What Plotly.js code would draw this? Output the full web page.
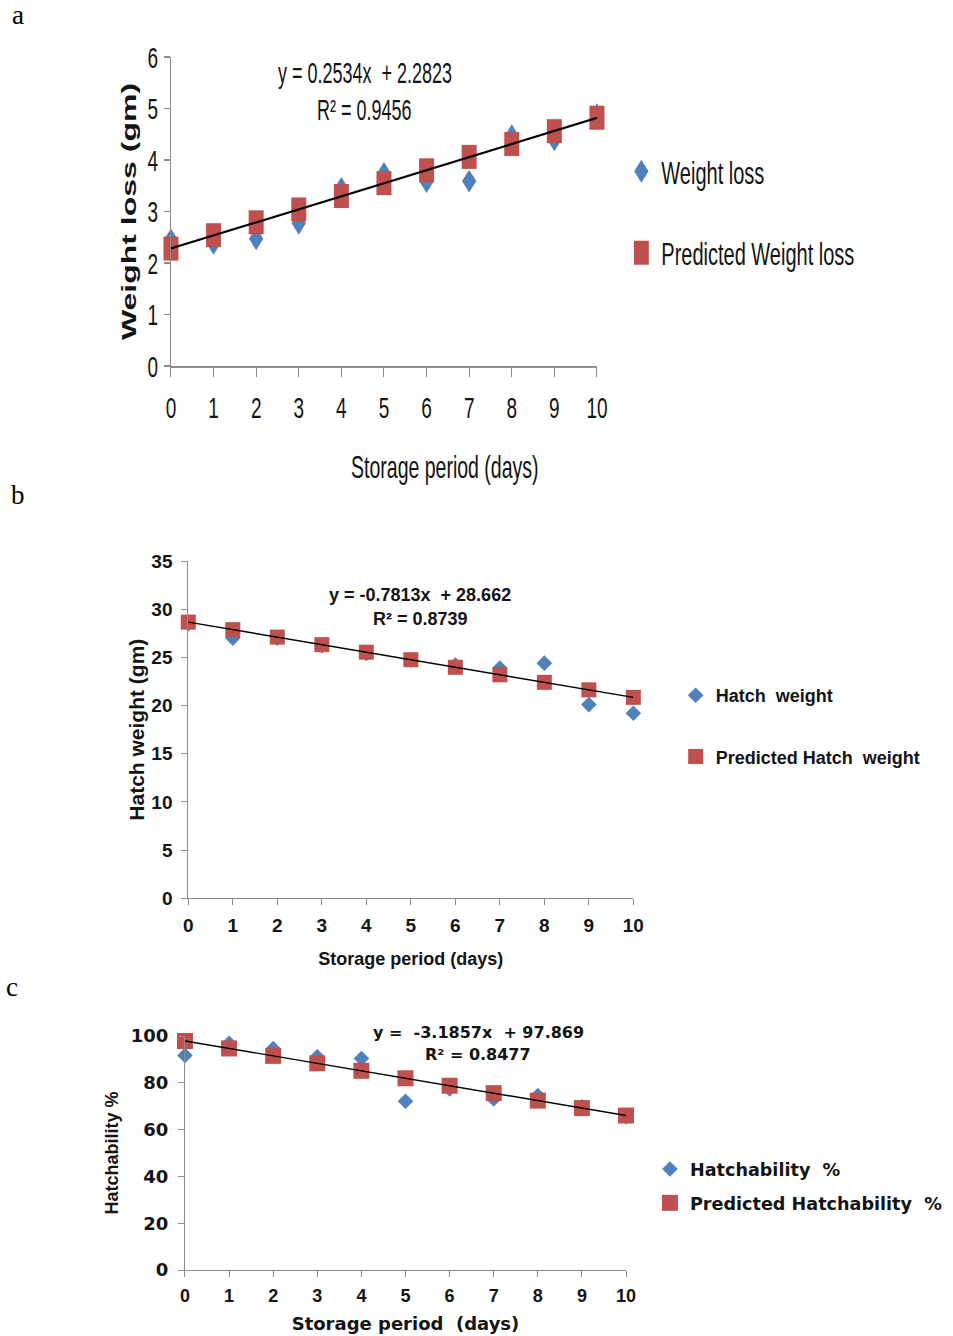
<!DOCTYPE html>
<html><head><meta charset="utf-8">
<script src="https://cdn.plot.ly/plotly-3.0.1.min.js"></script>
<style>
html,body{margin:0;padding:0;background:#fff;}
#main{position:absolute;left:0;top:0;width:953px;height:1336px;}
#pa{position:absolute;left:0;top:0;width:953px;height:306px;transform:scaleY(1.6);transform-origin:0 0;}
</style></head><body>
<div id="main"></div><div id="pa"></div>
<script>
// ---- data ----
const days = [0,1,2,3,4,5,6,7,8,9,10];
const weightLoss       = [2.45,2.38,2.47,2.77,3.45,3.74,3.58,3.59,4.47,4.39,4.88];
const predWeightLoss   = [2.28,2.54,2.79,3.04,3.30,3.55,3.80,4.06,4.31,4.56,4.82];
const hatchWeight      = [28.5,27.0,27.0,26.2,25.4,24.7,24.2,23.9,24.4,20.1,19.2];
const predHatchWeight  = [28.66,27.88,27.10,26.32,25.54,24.76,23.97,23.19,22.41,21.63,20.85];
const hatchability     = [91.7,96.9,94.6,91.1,90.4,72.1,77.4,73.1,74.6,69.7,65.5];
const predHatchability = [97.87,94.68,91.50,88.31,85.13,81.94,78.75,75.57,72.38,69.20,66.01];
const fitWeightLoss    = [0.2534, 2.2823];   // slope, intercept
const fitHatchWeight   = [-0.7813, 28.662];
const fitHatchability  = [-3.1857, 97.869];
const ticksA = [0,1,2,3,4,5,6];
const ticksB = [0,5,10,15,20,25,30,35];
const ticksC = [0,20,40,60,80,100];
const eqA = ['y = 0.2534x\u00A0 + 2.2823', 'R\u00B2 = 0.9456'];
const eqB = ['y = -0.7813x\u00A0 + 28.662', 'R\u00B2 = 0.8739'];
const eqC = ['y =\u00A0 -3.1857x\u00A0 + 97.869', 'R\u00B2 = 0.8477'];

const BLUE = '#4F81BD', RED = '#C0504D', AX = '#8c8c8c', TXT = '#141414';
const ARIAL = '"Liberation Sans", Arial, sans-serif';
const VERD = '"DejaVu Sans", Verdana, sans-serif';

function endX(){ return [days[0], days[days.length-1]]; }
function fitY(f){ return endX().map(x => f[0]*x + f[1]); }

function traces(xa, ya, obs, pred, fit, names, lg, dsize, ssize){
  return [
    {x: days, y: obs, type:'scatter', mode:'markers', name: names[0], xaxis: xa, yaxis: ya,
     legend: lg, legendgroup: lg+'1', cliponaxis:false,
     marker:{symbol:'diamond', size:dsize, color:BLUE, line:{width:0}}},
    {x: days, y: pred, type:'scatter', mode:'markers', name: names[1], xaxis: xa, yaxis: ya,
     legend: lg, legendgroup: lg+'2', cliponaxis:false,
     marker:{symbol:'square', size:ssize, color:RED, line:{width:0}}},
    {x: endX(), y: fitY(fit), type:'scatter', mode:'lines', showlegend:false, xaxis: xa, yaxis: ya,
     cliponaxis:false, line:{color:'#000', width:1.4}, hoverinfo:'skip'}
  ];
}

function axis(dom, rng, tv, font, extra){
  return Object.assign({domain: dom, range: rng, tickvals: tv, ticktext: tv.map(String),
    ticks:'outside', ticklen:6, tickwidth:1, tickcolor:AX, showline:true, linecolor:AX, linewidth:1,
    showgrid:false, zeroline:false, fixedrange:true, automargin:false, tickfont: font}, extra||{});
}

// ---- panel a (own div, stretched vertically like the reference) ----
const H_A = 306, SA = 1.6;
const pa = p => (H_A - p / SA) / H_A;
const fontA = {family: ARIAL, size: 19, color: TXT};
const layoutA = {
  width: 953, height: H_A, margin:{l:0,r:0,t:0,b:0},
  paper_bgcolor:'rgba(0,0,0,0)', plot_bgcolor:'rgba(0,0,0,0)',
  xaxis: axis([0.1794,0.6264],[0,10],days,fontA,{ticklabelstandoff:3}),
  yaxis: axis([pa(366),pa(57)],[0,6],ticksA,fontA,{ticklabelstandoff:2,
    title:{text:'Weight loss (gm)', font:{family:ARIAL, size:20, weight:'bold', color:TXT}, standoff:5}}),
  showlegend:true,
  legend:{x:0.652, xanchor:'left', y:pa(140), yanchor:'top', bgcolor:'rgba(0,0,0,0)',
    font:{family:ARIAL, size:20, color:TXT}, tracegroupgap:22, itemclick:false, itemdoubleclick:false},
  annotations:[
    {xref:'paper', yref:'paper', x:365/953, y:pa(73), text:eqA[0], showarrow:false,
     font:{family:ARIAL, size:18, color:TXT}, xanchor:'center', yanchor:'middle'},
    {xref:'paper', yref:'paper', x:364/953, y:pa(110), text:eqA[1], showarrow:false,
     font:{family:ARIAL, size:18, color:TXT}, xanchor:'center', yanchor:'middle'},
    {xref:'paper', yref:'paper', x:445/953, y:pa(467), text:'Storage period (days)', showarrow:false,
     font:{family:ARIAL, size:19.5, color:TXT}, xanchor:'center', yanchor:'middle'}
  ]
};
Plotly.newPlot('pa', traces('x','y',weightLoss,predWeightLoss,fitWeightLoss,
  ['Weight loss','Predicted Weight loss'],'legend',11,15), layoutA, {displayModeBar:false, staticPlot:true});

// ---- panels b and c ----
const H = 1336;
const py = p => (H - p) / H;
const fontB = {family: ARIAL, size: 19, weight:'bold', color: TXT};
const fontCy = {family: VERD, size: 18, weight:'bold', color: TXT};
const fontCx = {family: ARIAL, size: 18, weight:'bold', color: TXT};
const layoutM = {
  width: 953, height: H, margin:{l:0,r:0,t:0,b:0},
  paper_bgcolor:'#fff', plot_bgcolor:'rgba(0,0,0,0)',
  xaxis: axis([0.1976,0.6646],[0,10],days,fontB,{anchor:'y', ticklabelstandoff:4,
    title:{text:'Storage period (days)', font:{family:ARIAL, size:18, weight:'bold', color:TXT}, standoff:17}}),
  yaxis: axis([py(898.3),py(561)],[0,35],ticksB,fontB,{anchor:'x', ticklabelstandoff:5,
    title:{text:'Hatch weight (gm)', font:{family:ARIAL, size:21, weight:'bold', color:TXT}, standoff:1}}),
  xaxis2: axis([0.1941,0.6569],[0,10],days,fontCx,{anchor:'y2', ticklabelstandoff:3,
    title:{text:'Storage period\u00A0 (days)', font:{family:VERD, size:18, weight:'bold', color:TXT}, standoff:12}}),
  yaxis2: axis([py(1270),py(1036)],[0,100],ticksC,fontCy,{anchor:'x2', ticklabelstandoff:6,
    title:{text:'Hatchability %', font:{family:ARIAL, size:18, weight:'bold', color:TXT}, standoff:7}}),
  showlegend:true,
  legend:{x:0.709, xanchor:'left', y:py(677), yanchor:'top', bgcolor:'rgba(0,0,0,0)',
    font:{family:ARIAL, size:18, weight:'bold', color:TXT}, tracegroupgap:35, itemclick:false, itemdoubleclick:false},
  legend2:{x:0.682, xanchor:'left', y:py(1151), yanchor:'top', bgcolor:'rgba(0,0,0,0)',
    font:{family:VERD, size:17.6, weight:'bold', color:TXT}, tracegroupgap:8, itemclick:false, itemdoubleclick:false},
  annotations:[
    {xref:'paper', yref:'paper', x:18/953, y:py(15), text:'a', showarrow:false,
     font:{family:'"Liberation Serif", serif', size:27, color:'#000'}, xanchor:'center', yanchor:'middle'},
    {xref:'paper', yref:'paper', x:18/953, y:py(495), text:'b', showarrow:false,
     font:{family:'"Liberation Serif", serif', size:27, color:'#000'}, xanchor:'center', yanchor:'middle'},
    {xref:'paper', yref:'paper', x:12/953, y:py(987), text:'c', showarrow:false,
     font:{family:'"Liberation Serif", serif', size:27, color:'#000'}, xanchor:'center', yanchor:'middle'},
    {xref:'paper', yref:'paper', x:420/953, y:py(595), text:eqB[0], showarrow:false,
     font:{family:ARIAL, size:18, weight:'bold', color:TXT}, xanchor:'center', yanchor:'middle'},
    {xref:'paper', yref:'paper', x:420/953, y:py(619), text:eqB[1], showarrow:false,
     font:{family:ARIAL, size:18, weight:'bold', color:TXT}, xanchor:'center', yanchor:'middle'},
    {xref:'paper', yref:'paper', x:478/953, y:py(1032), text:eqC[0], showarrow:false,
     font:{family:VERD, size:16, weight:'bold', color:TXT}, xanchor:'center', yanchor:'middle'},
    {xref:'paper', yref:'paper', x:478/953, y:py(1054), text:eqC[1], showarrow:false,
     font:{family:VERD, size:16, weight:'bold', color:TXT}, xanchor:'center', yanchor:'middle'}
  ]
};
const dataM = traces('x','y',hatchWeight,predHatchWeight,fitHatchWeight,
    ['Hatch\u00A0 weight','Predicted Hatch\u00A0 weight'],'legend',12,15)
  .concat(traces('x2','y2',hatchability,predHatchability,fitHatchability,
    ['Hatchability\u00A0 %','Predicted Hatchability\u00A0 %'],'legend2',12,16));
Plotly.newPlot('main', dataM, layoutM, {displayModeBar:false, staticPlot:true});
</script>
</body></html>
